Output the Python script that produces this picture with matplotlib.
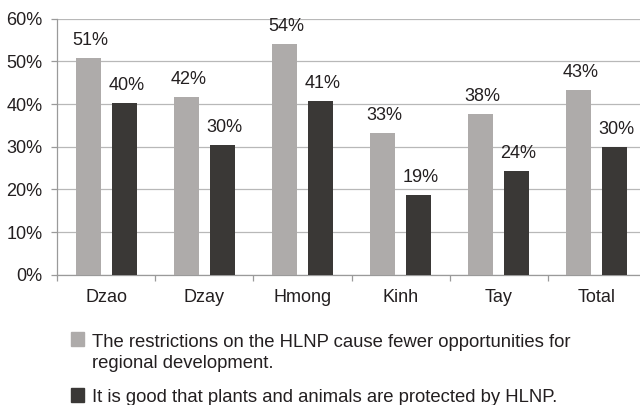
import matplotlib
matplotlib.use("Agg")
import matplotlib.pyplot as plt
from matplotlib.patches import Rectangle
import numpy as np

plt.rcParams['font.family'] = ['Liberation Sans', 'DejaVu Sans']

groups = ["Dzao", "Dzay", "Hmong", "Kinh", "Tay", "Total"]
restrictions = [50.8, 41.7, 54.1, 33.3, 37.7, 43.3]
protected = [40.3, 30.3, 40.8, 18.6, 24.4, 29.9]
series_labels = [
    "The restrictions on the HLNP cause fewer opportunities for\nregional development.",
    "It is good that plants and animals are protected by HLNP.",
]
yticks = [0, 10, 20, 30, 40, 50, 60]

light = "#aeabaa"
dark = "#3a3836"
grid_gray = "#b8b8b8"
axis_gray = "#9a9a9a"
text_col = "#231f20"

W, H = 640, 405
fig = plt.figure(figsize=(W / 100, H / 100), dpi=100)
ax = fig.add_axes([57.3 / W, (H - 274.7) / H, 588.4 / W, 256 / H])

x = np.arange(len(groups))
w = 0.25
off = 0.184
b1 = ax.bar(x - off, restrictions, width=w, color=light, zorder=3)
b2 = ax.bar(x + off, protected, width=w, color=dark, zorder=3)

for bars, vals in ((b1, restrictions), (b2, protected)):
    for r, v in zip(bars, vals):
        ax.annotate(f"{v:.0f}%", (r.get_x() + r.get_width() / 2 + 0.02, v),
                    xytext=(0, 9.4), textcoords="offset points",
                    ha="center", va="baseline", fontsize=13, color=text_col)

ax.set_xlim(-0.5, len(groups) - 0.5)
ax.set_ylim(0, 60)
ax.set_yticks(yticks)
ax.set_yticklabels([f"{t}%" for t in yticks], fontsize=13, color=text_col)
ax.set_xticks(x)
ax.set_xticklabels(groups, fontsize=13, color=text_col)
ax.set_xticks(np.arange(-0.5, len(groups) + 0.5, 1), minor=True)
ax.tick_params(axis="x", which="major", length=0, pad=10.5)
ax.tick_params(axis="x", which="minor", length=4, color=axis_gray, width=0.9)
ax.tick_params(axis="y", length=4, color=axis_gray, width=0.9, pad=6.5)

ax.grid(axis="y", color=grid_gray, linewidth=0.9, zorder=0)
for s in ("top", "right"):
    ax.spines[s].set_visible(False)
for s in ("left", "bottom"):
    ax.spines[s].set_color(axis_gray)
    ax.spines[s].set_linewidth(0.9)

# legend below the axes: swatch + label for each series
sw = 13.3
line_step = 22.0
entries = [(light, series_labels[0], 339.0), (dark, series_labels[1], 395.0)]
for col, lab, yc in entries:
    fig.patches.append(Rectangle((70.5 / W, (H - yc - sw / 2) / H), sw / W, sw / H,
                                 transform=fig.transFigure, color=col))
    # baseline of the last line; the swatch sits level with the first line
    base = yc + 6.7 + line_step * lab.count("\n")
    fig.text(91.7 / W, (H - base) / H, lab, ha="left", va="baseline",
             fontsize=13.3, color=text_col, linespacing=1.25)

fig.savefig("out.png", dpi=100)
